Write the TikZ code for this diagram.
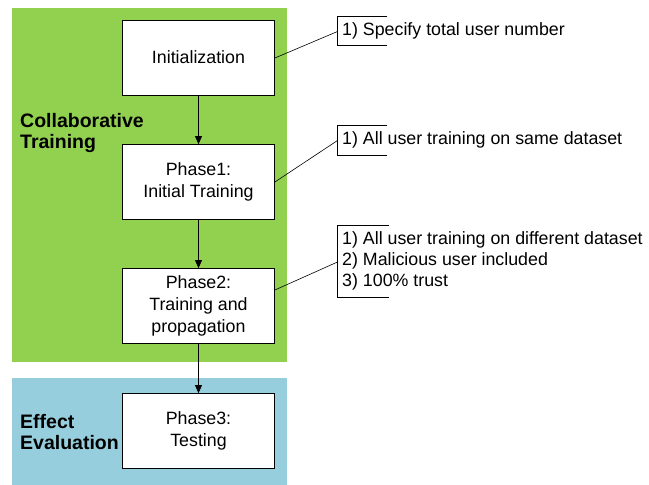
\documentclass[tikz,border=0pt]{standalone}
\usepackage{fontspec}
\setmainfont{Liberation Sans}
\usetikzlibrary{arrows.meta}
\definecolor{grn}{RGB}{146,208,80}
\definecolor{blu}{RGB}{150,206,221}
\begin{document}
\begin{tikzpicture}[x=1pt,y=-1pt,
  stepbox/.style={draw=black,fill=white,line width=0.8pt,minimum width=152pt,minimum height=75pt,align=center,inner sep=0pt,font=\fontsize{17.8}{22}\selectfont},
  phaselabel/.style={anchor=west,align=left,inner sep=0pt,font=\fontsize{19.5}{21}\selectfont\bfseries},
  note/.style={anchor=west,align=left,inner sep=0pt,font=\fontsize{17.8}{21}\selectfont},
  flow/.style={-{Triangle[length=8pt,width=7pt]},line width=0.7pt},
  bracketline/.style={line width=0.6pt}]
\useasboundingbox (0,0) rectangle (649,485);
\fill[grn] (12,8) rectangle (287,362);
\fill[blu] (12,378) rectangle (287,485);
\node[stepbox] (init) at (198.5,57.5) {Initialization};
\node[stepbox] (p1) at (198.5,182) {Phase1:\\Initial Training};
\node[stepbox] (p2) at (198.5,306) {Phase2:\\Training and\\propagation};
\node[stepbox] (p3) at (198.5,431) {Phase3:\\Testing};
\node[phaselabel] (ct) at (20,132.5) {Collaborative\\Training};
\node[phaselabel] (ee) at (20,432.5) {Effect\\Evaluation};
\draw[flow] (init.south) -- (p1.north);
\draw[flow] (p1.south) -- (p2.north);
\draw[flow] (p2.south) -- (p3.north);
% callout 1
\node[note] (n1) at (342,31) {1) Specify total user number};
\coordinate (b1) at (337.5,31.5);
\draw[bracketline] (387,16.7) -- (337.5,16.7) -- (337.5,45) -- (387,45);
\draw[bracketline] (init.east |- 0,58) -- (b1);
% callout 2
\node[note] (n2) at (342,140) {1) All user training on same dataset};
\coordinate (b2) at (337.5,140.5);
\draw[bracketline] (387,125.7) -- (337.5,125.7) -- (337.5,155) -- (387,155);
\draw[bracketline] (p1.east |- 0,182) -- (b2);
% callout 3
\node[note] (n3) at (342,261) {1) All user training on different dataset\\2) Malicious user included\\3) 100\% trust};
\coordinate (b3) at (337.5,262);
\draw[bracketline] (389,225.7) -- (337.5,225.7) -- (337.5,297) -- (389,297);
\draw[bracketline] (p2.east |- 0,290) -- (b3);
\end{tikzpicture}
\end{document}
